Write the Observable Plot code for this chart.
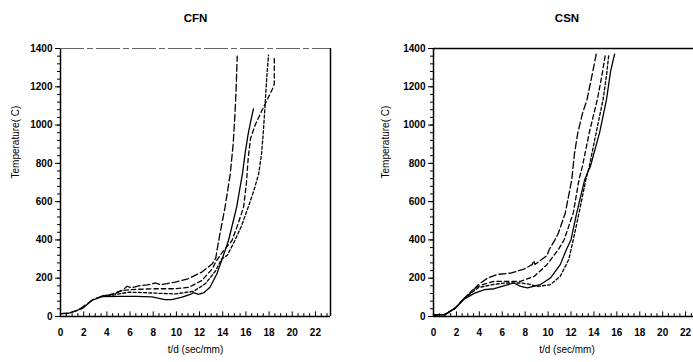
<!DOCTYPE html>
<html>
<head>
<meta charset="utf-8">
<script src="https://cdn.jsdelivr.net/npm/d3@7"></script>
<script src="https://cdn.jsdelivr.net/npm/@observablehq/plot@0.6"></script>
<style>
  html, body { margin: 0; padding: 0; background: #fff; overflow: hidden; width: 693px; height: 362px; }
  #wrap { position: relative; width: 693px; height: 362px; overflow: hidden; }
  #left, #right { position: absolute; top: 0; height: 362px; }
  #left { left: 0; width: 346px; }
  #right { left: 373px; width: 330px; }
  svg { max-width: none !important; display: block; }
</style>
</head>
<body>
<div id="wrap"><div id="left"></div><div id="right"></div></div>
<script>
// ---- data: [t/d (sec/mm), temperature (C)] ----
const titles = ["CFN", "CSN"];
const xLabel = "t/d (sec/mm)";
const yLabel = "Temperature( C)";
const xTicks = [0, 2, 4, 6, 8, 10, 12, 14, 16, 18, 20, 22];
const yTicks = [0, 200, 400, 600, 800, 1000, 1200, 1400];

const cfnLongDash = [[0,15],[0.7,17],[1.5,32],[2.2,62],[2.9,92],[3.6,106],[4.7,118],[5.4,140],[5.75,158],[6.1,150],[6.75,160],[7.5,165],[8.2,175],[8.6,166],[9.2,172],[9.9,180],[11,197],[12.2,232],[13.1,275],[13.4,305],[13.65,397],[14.2,571],[14.65,745],[14.9,900],[15.05,1050],[15.15,1180],[15.25,1360]];
const cfnSolid = [[0,15],[0.7,17],[1.9,42],[2.7,84],[3.6,104],[5,105],[6.5,105],[7.9,103],[9,88],[9.6,88],[10.5,101],[11.2,115],[11.5,125],[11.9,116],[12.4,125],[12.9,153],[13.5,223],[13.9,292],[14.5,397],[15.2,571],[15.7,745],[15.95,860],[16.2,955],[16.45,1030],[16.65,1085]];
const cfnMedDash = [[3.6,106],[4.5,118],[5.3,136],[6.5,142],[8.2,145],[9.9,145],[11.06,152],[12.2,188],[13.1,249],[13.4,285],[13.9,330],[14.8,397],[15.3,480],[15.8,571],[16.05,700],[16.2,830],[16.4,930],[16.8,1000],[17.45,1085],[17.9,1140],[18.3,1190],[18.45,1215],[18.45,1350]];
const cfnShortDash = [[3.6,106],[4.5,112],[5.9,127],[7,125],[8.2,122],[9.9,118],[11.5,132],[12.5,171],[13.4,240],[13.9,300],[14.4,320],[15.05,397],[15.6,470],[16.2,571],[16.7,660],[17.1,745],[17.35,850],[17.5,960],[17.65,1100],[17.8,1250],[17.95,1365]];

const csnLongDash = [[0,8],[1,10],[1.9,44],[2.7,96],[3.3,125],[3.9,166],[4.7,200],[5.6,220],[6.75,227],[7.9,248],[8.6,271],[8.75,292],[8.85,272],[9.9,318],[10.1,350],[10.6,400],[10.9,436],[11.5,541],[12.07,716],[12.3,850],[12.6,962],[13.0,1060],[13.4,1134],[13.8,1250],[14.2,1370]];
const csnMedDash = [[0,8],[1,10],[1.9,44],[2.7,96],[3.6,150],[4.5,170],[5.3,184],[6.5,184],[7.6,184],[8.8,210],[9.9,271],[10.9,350],[11.4,401],[12.2,541],[12.7,716],[13.0,786],[13.6,962],[14.3,1134],[14.7,1260],[15.0,1370]];
const csnShortDash = [[0,8],[1,10],[1.9,44],[2.7,96],[3.9,150],[5,165],[6.2,175],[7.6,175],[8.4,168],[9.05,157],[10.2,166],[11.06,210],[11.8,297],[12.2,401],[12.7,541],[13.3,716],[13.6,786],[14.2,962],[14.8,1134],[15.1,1260],[15.3,1370]];
const csnSolid = [[0,8],[1,10],[1.9,44],[2.7,92],[3.6,122],[4.46,140],[5.3,145],[6.2,161],[7.0,175],[7.6,157],[8.2,149],[9.3,166],[10.2,201],[11.06,271],[11.6,350],[12.0,401],[12.5,541],[13.2,716],[13.7,786],[14.5,962],[15.1,1134],[15.45,1280],[15.8,1370]];

const dashStyles = { solid: null, long: "7,3", med: "4.5,3", short: "3,2.2" };

function panel(title, series, opts) {
  const xMax = 23.3;
  const minorY = d3.range(0, 1401, 40);
  const minorX = d3.range(0, 23.01, 0.5);
  const marks = [
    Plot.axisY({ticks: minorY, tickSize: 3, tickFormat: () => "", label: null}),
    Plot.axisY({ticks: yTicks, tickSize: 5, tickPadding: 3, tickFormat: d => String(d), label: null, fontSize: 10, fontWeight: "bold"}),
    Plot.axisX({ticks: xTicks, tickSize: 0, tickPadding: 12, tickFormat: d => String(d), label: null, fontSize: 10, fontWeight: "bold"}),
    Plot.ruleX(minorX, {y1: 0, y2: d => (d % 2 === 0 ? 24 : 15), stroke: "black", strokeWidth: 1}),
    Plot.ruleX([0], {stroke: "black", strokeWidth: 1.5}),
    Plot.ruleY([0], {stroke: "black", strokeWidth: 1.5}),
    Plot.ruleY([1400], {stroke: opts.topColor, strokeWidth: opts.topWidth, strokeDasharray: opts.topDash}),
    Plot.ruleX([xMax], {stroke: "black", strokeWidth: 1.5}),
  ];
  for (const s of series) {
    marks.push(Plot.line(s.data, {x: d => d[0], y: d => d[1], stroke: "black", strokeWidth: 1.3,
      strokeDasharray: dashStyles[s.style], curve: "linear"}));
  }
  marks.push(
    Plot.text([title], {frameAnchor: "top", dy: -35, fontSize: 11.5, fontWeight: "bold"}),
    Plot.text([xLabel], {frameAnchor: "bottom", dy: 36, fontSize: 10}),
    Plot.text([yLabel], {frameAnchor: "left", dx: opts.yLabelDx, dy: -4, rotate: -90, fontSize: 10})
  );
  return Plot.plot({
    width: opts.width,
    height: 362,
    marginLeft: 60,
    marginRight: opts.marginRight,
    marginTop: 48,
    marginBottom: 46,
    x: {domain: [0, xMax]},
    y: {domain: [0, 1400]},
    style: {fontFamily: "'Liberation Sans', Arial, sans-serif", color: "black", background: "white", overflow: "visible", maxWidth: "none"},
    marks
  });
}

document.getElementById("left").append(panel(titles[0], [
  {data: cfnLongDash, style: "long"},
  {data: cfnSolid, style: "solid"},
  {data: cfnMedDash, style: "med"},
  {data: cfnShortDash, style: "short"}
], {width: 346, marginRight: 16, yLabelDx: -45, topColor: "#555", topWidth: 0.9, topDash: "24,3,6,3"}));

document.getElementById("right").append(panel(titles[1], [
  {data: csnLongDash, style: "long"},
  {data: csnMedDash, style: "med"},
  {data: csnShortDash, style: "short"},
  {data: csnSolid, style: "solid"}
], {width: 330, marginRight: 3, yLabelDx: -48, topColor: "black", topWidth: 1.3, topDash: null}));
</script>
</body>
</html>
